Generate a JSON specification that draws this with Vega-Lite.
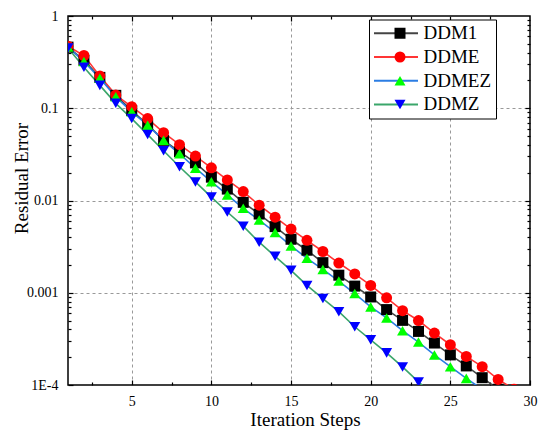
{
  "$schema": "https://vega.github.io/schema/vega-lite/v6.json",
  "width": 462,
  "height": 369,
  "autosize": "none",
  "padding": {"left": 68, "top": 16, "right": 17, "bottom": 46},
  "background": "white",
  "config": {
    "view": {"stroke": "black", "strokeWidth": 1.5},
    "font": "Liberation Serif",
    "style": {"guide-label": {"font": "Liberation Serif"}, "guide-title": {"font": "Liberation Serif"}},
    "axis": {
      "labelFont": "Liberation Serif", "titleFont": "Liberation Serif",
      "labelColor": "black", "titleColor": "black", "tickColor": "black",
      "domain": false, "labelFlush": false, "labelOverlap": false, "labelBound": false,
      "titleFontWeight": "normal"
    },
    "legend": {"labelFont": "Liberation Serif", "labelColor": "black"}
  },
  "data": {"values": [
    {"method": "DDM1", "step": 1, "error": 0.46},
    {"method": "DDM1", "step": 2, "error": 0.331},
    {"method": "DDM1", "step": 3, "error": 0.216},
    {"method": "DDM1", "step": 4, "error": 0.138},
    {"method": "DDM1", "step": 5, "error": 0.0945},
    {"method": "DDM1", "step": 6, "error": 0.0665},
    {"method": "DDM1", "step": 7, "error": 0.0449},
    {"method": "DDM1", "step": 8, "error": 0.0338},
    {"method": "DDM1", "step": 9, "error": 0.0256},
    {"method": "DDM1", "step": 10, "error": 0.0179},
    {"method": "DDM1", "step": 11, "error": 0.0133},
    {"method": "DDM1", "step": 12, "error": 0.00955},
    {"method": "DDM1", "step": 13, "error": 0.00713},
    {"method": "DDM1", "step": 14, "error": 0.00521},
    {"method": "DDM1", "step": 15, "error": 0.0038},
    {"method": "DDM1", "step": 16, "error": 0.00289},
    {"method": "DDM1", "step": 17, "error": 0.00212},
    {"method": "DDM1", "step": 18, "error": 0.00155},
    {"method": "DDM1", "step": 19, "error": 0.00118},
    {"method": "DDM1", "step": 20, "error": 0.0009},
    {"method": "DDM1", "step": 21, "error": 0.000657},
    {"method": "DDM1", "step": 22, "error": 0.000502},
    {"method": "DDM1", "step": 23, "error": 0.000381},
    {"method": "DDM1", "step": 24, "error": 0.000285},
    {"method": "DDM1", "step": 25, "error": 0.000212},
    {"method": "DDM1", "step": 26, "error": 0.000161},
    {"method": "DDM1", "step": 27, "error": 0.00012},
    {"method": "DDM1", "step": 28, "error": 0.00009},
    {"method": "DDME", "step": 1, "error": 0.47},
    {"method": "DDME", "step": 2, "error": 0.373},
    {"method": "DDME", "step": 3, "error": 0.223},
    {"method": "DDME", "step": 4, "error": 0.139},
    {"method": "DDME", "step": 5, "error": 0.104},
    {"method": "DDME", "step": 6, "error": 0.0773},
    {"method": "DDME", "step": 7, "error": 0.0544},
    {"method": "DDME", "step": 8, "error": 0.0403},
    {"method": "DDME", "step": 9, "error": 0.0303},
    {"method": "DDME", "step": 10, "error": 0.0226},
    {"method": "DDME", "step": 11, "error": 0.0167},
    {"method": "DDME", "step": 12, "error": 0.0125},
    {"method": "DDME", "step": 13, "error": 0.0089},
    {"method": "DDME", "step": 14, "error": 0.0066},
    {"method": "DDME", "step": 15, "error": 0.0049},
    {"method": "DDME", "step": 16, "error": 0.0037},
    {"method": "DDME", "step": 17, "error": 0.0028},
    {"method": "DDME", "step": 18, "error": 0.0021},
    {"method": "DDME", "step": 19, "error": 0.0016},
    {"method": "DDME", "step": 20, "error": 0.0012},
    {"method": "DDME", "step": 21, "error": 0.00088},
    {"method": "DDME", "step": 22, "error": 0.00064},
    {"method": "DDME", "step": 23, "error": 0.0005},
    {"method": "DDME", "step": 24, "error": 0.000366},
    {"method": "DDME", "step": 25, "error": 0.000273},
    {"method": "DDME", "step": 26, "error": 0.000204},
    {"method": "DDME", "step": 27, "error": 0.000158},
    {"method": "DDME", "step": 28, "error": 0.000115},
    {"method": "DDME", "step": 29, "error": 0.00009},
    {"method": "DDMEZ", "step": 1, "error": 0.46},
    {"method": "DDMEZ", "step": 2, "error": 0.321},
    {"method": "DDMEZ", "step": 3, "error": 0.211},
    {"method": "DDMEZ", "step": 4, "error": 0.133},
    {"method": "DDMEZ", "step": 5, "error": 0.0915},
    {"method": "DDMEZ", "step": 6, "error": 0.0654},
    {"method": "DDMEZ", "step": 7, "error": 0.0449},
    {"method": "DDMEZ", "step": 8, "error": 0.0321},
    {"method": "DDMEZ", "step": 9, "error": 0.0224},
    {"method": "DDMEZ", "step": 10, "error": 0.016},
    {"method": "DDMEZ", "step": 11, "error": 0.0115},
    {"method": "DDMEZ", "step": 12, "error": 0.00822},
    {"method": "DDMEZ", "step": 13, "error": 0.00613},
    {"method": "DDMEZ", "step": 14, "error": 0.0045},
    {"method": "DDMEZ", "step": 15, "error": 0.00322},
    {"method": "DDMEZ", "step": 16, "error": 0.00236},
    {"method": "DDMEZ", "step": 17, "error": 0.00179},
    {"method": "DDMEZ", "step": 18, "error": 0.00134},
    {"method": "DDMEZ", "step": 19, "error": 0.00098},
    {"method": "DDMEZ", "step": 20, "error": 0.000703},
    {"method": "DDMEZ", "step": 21, "error": 0.000533},
    {"method": "DDMEZ", "step": 22, "error": 0.000388},
    {"method": "DDMEZ", "step": 23, "error": 0.000292},
    {"method": "DDMEZ", "step": 24, "error": 0.000212},
    {"method": "DDMEZ", "step": 25, "error": 0.000158},
    {"method": "DDMEZ", "step": 26, "error": 0.000118},
    {"method": "DDMEZ", "step": 27, "error": 0.00009},
    {"method": "DDMZ", "step": 1, "error": 0.45},
    {"method": "DDMZ", "step": 2, "error": 0.278},
    {"method": "DDMZ", "step": 3, "error": 0.177},
    {"method": "DDMZ", "step": 4, "error": 0.113},
    {"method": "DDMZ", "step": 5, "error": 0.0773},
    {"method": "DDMZ", "step": 6, "error": 0.0518},
    {"method": "DDMZ", "step": 7, "error": 0.0346},
    {"method": "DDMZ", "step": 8, "error": 0.0232},
    {"method": "DDMZ", "step": 9, "error": 0.0159},
    {"method": "DDMZ", "step": 10, "error": 0.0109},
    {"method": "DDMZ", "step": 11, "error": 0.0075},
    {"method": "DDMZ", "step": 12, "error": 0.00527},
    {"method": "DDMZ", "step": 13, "error": 0.00353},
    {"method": "DDMZ", "step": 14, "error": 0.00248},
    {"method": "DDMZ", "step": 15, "error": 0.00175},
    {"method": "DDMZ", "step": 16, "error": 0.0012},
    {"method": "DDMZ", "step": 17, "error": 0.000865},
    {"method": "DDMZ", "step": 18, "error": 0.000624},
    {"method": "DDMZ", "step": 19, "error": 0.000428},
    {"method": "DDMZ", "step": 20, "error": 0.000309},
    {"method": "DDMZ", "step": 21, "error": 0.000223},
    {"method": "DDMZ", "step": 22, "error": 0.000157},
    {"method": "DDMZ", "step": 23, "error": 0.000108},
    {"method": "DDMZ", "step": 24, "error": 0.000076}
  ]},
  "layer": [
    {
      "mark": {"type": "point", "opacity": 0},
      "encoding": {
        "x": {"field": "step", "type": "quantitative", "scale": {"domain": [1, 30], "nice": false, "zero": false},
          "axis": {"orient": "bottom", "values": [5, 10, 15, 20, 25], "grid": true, "gridDash": [3, 3], "gridColor": "#999999", "gridWidth": 1, "ticks": false, "labels": false, "title": null}},
        "y": {"field": "error", "type": "quantitative", "scale": {"type": "log", "domain": [0.0001, 1], "nice": false},
          "axis": {"orient": "left", "values": [0.001, 0.01, 0.1], "grid": true, "gridDash": [3, 3], "gridColor": "#999999", "gridWidth": 1, "ticks": false, "labels": false, "title": null}}
      }
    },
    {
      "mark": {"type": "line", "clip": true, "strokeWidth": 1.6},
      "encoding": {
        "x": {"field": "step", "type": "quantitative", "scale": {"domain": [1, 30], "nice": false, "zero": false},
          "axis": {"orient": "bottom", "values": [5, 10, 15, 20, 25, 30], "grid": false, "tickSize": -5, "tickWidth": 1.2, "labelPadding": 14, "labelFontSize": 14, "labelFont": "Liberation Serif",
            "title": "Iteration Steps", "titleFont": "Liberation Serif", "titleFontSize": 19, "titleX": 237, "titleY": 40, "titleBaseline": "alphabetic", "titleAlign": "center", "titleAnchor": null}},
        "y": {"field": "error", "type": "quantitative", "scale": {"type": "log", "domain": [0.0001, 1], "nice": false},
          "axis": {"orient": "left", "values": [0.0001, 0.001, 0.01, 0.1, 1], "grid": false, "tickSize": -5, "tickWidth": 1.2, "labelPadding": 15, "labelFontSize": 14, "labelFont": "Liberation Serif",
            "labelExpr": "datum.value > 0.5 ? '1' : datum.value > 0.05 ? '0.1' : datum.value > 0.005 ? '0.01' : datum.value > 0.0005 ? '0.001' : '1E-4'",
            "title": "Residual Error", "titleFont": "Liberation Serif", "titleFontSize": 19, "titleX": -41, "titleY": 162, "titleAngle": 270, "titleBaseline": "alphabetic", "titleAlign": "center", "titleAnchor": null}},
        "stroke": {"field": "method", "type": "nominal",
          "scale": {"range": ["#444444", "#ff3535", "#2b7de3", "#3aa66a"]},
          "legend": {"orient": "none", "legendX": 301, "legendY": 3.5, "title": null, "padding": 4, "rowPadding": 3.7, "clipHeight": 19.6,
            "symbolType": "stroke", "symbolSize": 1936, "symbolStrokeWidth": 2, "labelFont": "Liberation Serif", "labelFontSize": 19, "labelOffset": 4.5, "labelLimit": 300,
            "strokeColor": "black", "fillColor": "white", "cornerRadius": 0}}
      }
    },
    {
      "mark": {"type": "point", "filled": true, "size": 121, "opacity": 1, "clip": true, "strokeWidth": 0},
      "encoding": {
        "x": {"field": "step", "type": "quantitative", "scale": {"domain": [1, 30], "nice": false, "zero": false},
          "axis": {"orient": "bottom", "values": [2.5, 7.5, 12.5, 17.5, 22.5, 27.5], "grid": false, "tickSize": -3, "tickWidth": 1.2, "labels": false, "title": null}},
        "y": {"field": "error", "type": "quantitative", "scale": {"type": "log", "domain": [0.0001, 1], "nice": false},
          "axis": {"orient": "left", "values": [0.0002, 0.0003, 0.0004, 0.0005, 0.0006, 0.0007, 0.0008, 0.0009, 0.002, 0.003, 0.004, 0.005, 0.006, 0.007, 0.008, 0.009, 0.02, 0.03, 0.04, 0.05, 0.06, 0.07, 0.08, 0.09, 0.2, 0.3, 0.4, 0.5, 0.6, 0.7, 0.8, 0.9],
            "grid": false, "tickSize": -3, "tickWidth": 1.2, "labels": false, "title": null}},
        "fill": {"field": "method", "type": "nominal",
          "scale": {"domain": ["DDM1", "DDME", "DDMEZ", "DDMZ"], "range": ["#000000", "#ff0000", "#00ff00", "#0000ff"]},
          "legend": {"orient": "none", "legendX": 301, "legendY": 3.5, "title": null, "padding": 4, "rowPadding": 3.7, "clipHeight": 19.6,
            "symbolSize": 121, "symbolStrokeWidth": 0, "symbolOffset": 17.5, "labelFontSize": 19, "labelOffset": 4.5, "labelExpr": "''", "labelLimit": 300}},
        "shape": {"field": "method", "type": "nominal",
          "scale": {"domain": ["DDM1", "DDME", "DDMEZ", "DDMZ"], "range": ["square", "circle", "triangle-up", "triangle-down"]},
          "legend": {"orient": "none", "legendX": 301, "legendY": 3.5, "title": null, "padding": 4, "rowPadding": 3.7, "clipHeight": 19.6,
            "symbolSize": 121, "symbolStrokeWidth": 0, "symbolOffset": 17.5, "labelFontSize": 19, "labelOffset": 4.5, "labelExpr": "''", "labelLimit": 300}}
      }
    },
    {
      "mark": {"type": "point", "opacity": 0},
      "encoding": {
        "x": {"field": "step", "type": "quantitative", "scale": {"domain": [1, 30], "nice": false, "zero": false},
          "axis": {"orient": "top", "values": [5, 10, 15, 20, 25], "grid": false, "tickSize": -5, "tickWidth": 1.2, "labels": false, "title": null}},
        "y": {"field": "error", "type": "quantitative", "scale": {"type": "log", "domain": [0.0001, 1], "nice": false},
          "axis": {"orient": "right", "values": [0.001, 0.01, 0.1], "grid": false, "tickSize": -5, "tickWidth": 1.2, "labels": false, "title": null}}
      }
    },
    {
      "mark": {"type": "point", "opacity": 0},
      "encoding": {
        "x": {"field": "step", "type": "quantitative", "scale": {"domain": [1, 30], "nice": false, "zero": false},
          "axis": {"orient": "top", "values": [2.5, 7.5, 12.5, 17.5, 22.5, 27.5], "grid": false, "tickSize": -3, "tickWidth": 1.2, "labels": false, "title": null}},
        "y": {"field": "error", "type": "quantitative", "scale": {"type": "log", "domain": [0.0001, 1], "nice": false},
          "axis": {"orient": "right", "values": [0.0002, 0.0003, 0.0004, 0.0005, 0.0006, 0.0007, 0.0008, 0.0009, 0.002, 0.003, 0.004, 0.005, 0.006, 0.007, 0.008, 0.009, 0.02, 0.03, 0.04, 0.05, 0.06, 0.07, 0.08, 0.09, 0.2, 0.3, 0.4, 0.5, 0.6, 0.7, 0.8, 0.9],
            "grid": false, "tickSize": -3, "tickWidth": 1.2, "labels": false, "title": null}}
      }
    }
  ],
  "resolve": {"axis": {"x": "independent", "y": "independent"}}
}
